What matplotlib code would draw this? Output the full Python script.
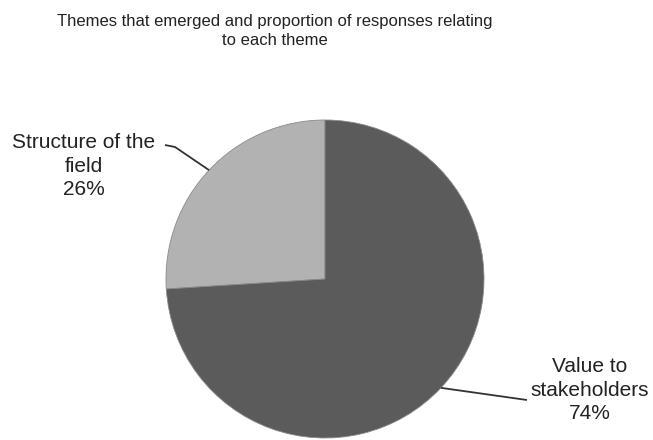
import matplotlib.pyplot as plt
import matplotlib as mpl
import numpy as np

mpl.rcParams['font.family'] = ['Liberation Sans', 'DejaVu Sans']

# data
labels = ['Structure of the\nfield', 'Value to\nstakeholders']
shares = [26, 74]
colors = ['#b2b2b2', '#5b5b5b']

# pixel layout of the reference: pie centre (325, 279), radius 159
W, H = 653, 440
cx, cy, R = 325, 279, 159


def px(x, y):
    # pixel position -> data units of the pie axes
    return (x - cx) / R, (cy - y) / R


fig = plt.figure(figsize=(W / 100, H / 100), dpi=100)
ax = fig.add_axes([0, 0, 1, 1])

wedges, _ = ax.pie(shares, colors=colors, startangle=90, counterclock=True,
                   radius=1, center=(0, 0), frame=True,
                   wedgeprops=dict(edgecolor='#8a8a8a', linewidth=0.6))
ax.set_xlim(-cx / R, (W - cx) / R)
ax.set_ylim(-(H - cy) / R, cy / R)
ax.set_aspect('equal')
ax.axis('off')

# label text positions and leader paths (pixels)
text_pos = [px(84, 166), px(590, 390)]
leaders = [[px(175, 147), px(165, 145)], [px(527, 400)]]

for w, lab, s, tp, path in zip(wedges, labels, shares, text_pos, leaders):
    mid = np.deg2rad((w.theta1 + w.theta2) / 2)
    x0, y0 = np.cos(mid), np.sin(mid)
    xs = [x0] + [p[0] for p in path]
    ys = [y0] + [p[1] for p in path]
    ax.plot(xs, ys, color='#333333', lw=1.3, solid_capstyle='butt')
    ax.text(tp[0], tp[1], f'{lab}\n{s}%', ha='center', va='center',
            fontsize=15, color='#222222', linespacing=1.3)

fig.text(275 / W, 1 - 31 / H,
         'Themes that emerged and proportion of responses relating\nto each theme',
         ha='center', va='center', fontsize=12, color='#222222', linespacing=1.3)

plt.savefig('out.png', dpi=100)
